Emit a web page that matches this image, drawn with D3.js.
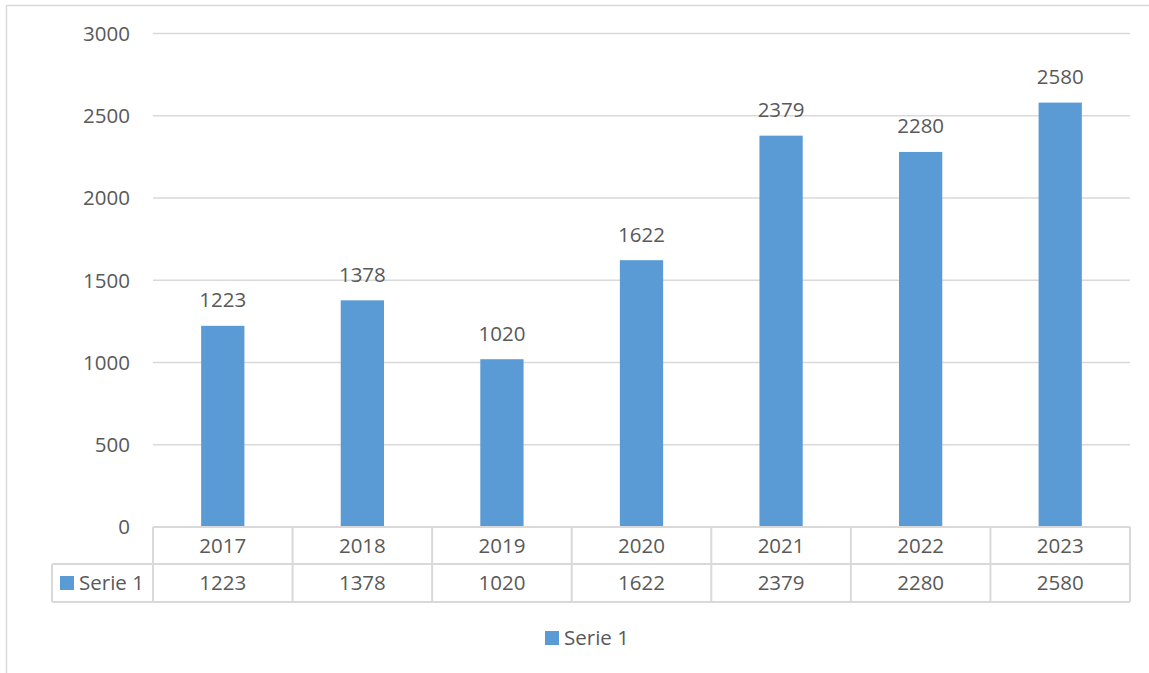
<!DOCTYPE html>
<html>
<head>
<meta charset="utf-8">
<script src="https://cdn.jsdelivr.net/npm/d3@7"></script>
<style>
  html, body { margin: 0; padding: 0; background: #fff; }
  svg { display: block; }
  text { font-family: "Open Sans", "Liberation Sans", sans-serif; fill: #595959; }
</style>
</head>
<body>
<div id="chart"></div>
<script>
const years = ["2017", "2018", "2019", "2020", "2021", "2022", "2023"];
const serie1 = [1223, 1378, 1020, 1622, 2379, 2280, 2580];
const yTicks = [0, 500, 1000, 1500, 2000, 2500, 3000];
const seriesName = "Serie 1";

const width = 1149;
const height = 673;
const barColor = "#5b9bd5";
const lineColor = "#d9d9d9";
const fontSize = 20.5;

const svg = d3.select("#chart").append("svg")
  .attr("width", width)
  .attr("height", height);

// outer chart border (left and top visible)
svg.append("rect")
  .attr("x", 6.5).attr("y", 5.5)
  .attr("width", width + 20).attr("height", height + 20)
  .attr("fill", "none")
  .attr("stroke", lineColor)
  .attr("stroke-width", 1.5);

const plotLeft = 153, plotRight = 1130;
const x = d3.scaleBand().domain(years).range([plotLeft, plotRight]).padding(0);
const y = d3.scaleLinear().domain([0, 3000]).range([527, 33.5]);

// gridlines
svg.append("g")
  .selectAll("line")
  .data(yTicks.filter((d) => d > 0))
  .join("line")
  .attr("x1", plotLeft).attr("x2", plotRight)
  .attr("y1", (d) => y(d)).attr("y2", (d) => y(d))
  .attr("stroke", lineColor)
  .attr("stroke-width", 1.5);

// y tick labels
svg.append("g")
  .selectAll("text")
  .data(yTicks)
  .join("text")
  .attr("x", 130)
  .attr("y", (d) => y(d))
  .attr("dy", "0.36em")
  .attr("text-anchor", "end")
  .attr("font-size", fontSize)
  .text((d) => d);

// bars
const barW = x.bandwidth() * 0.31;
svg.append("g")
  .selectAll("rect")
  .data(serie1)
  .join("rect")
  .attr("x", (d, i) => x(years[i]) + (x.bandwidth() - barW) / 2)
  .attr("y", (d) => y(d))
  .attr("width", barW)
  .attr("height", (d) => y(0) - y(d))
  .attr("fill", barColor);

// data labels
svg.append("g")
  .selectAll("text")
  .data(serie1)
  .join("text")
  .attr("x", (d, i) => x(years[i]) + x.bandwidth() / 2)
  .attr("y", (d) => y(d) - 18.5)
  .attr("text-anchor", "middle")
  .attr("font-size", fontSize)
  .text((d) => d);

// data table
const row1Top = y(0), row1Bot = 564, row2Bot = 602;
const tableLeft = 52;
const table = svg.append("g")
  .attr("stroke", lineColor)
  .attr("stroke-width", 2)
  .attr("fill", "none");

table.append("line").attr("x1", plotLeft).attr("x2", plotRight).attr("y1", row1Top).attr("y2", row1Top);
table.append("line").attr("x1", tableLeft).attr("x2", plotRight).attr("y1", row1Bot).attr("y2", row1Bot);
table.append("line").attr("x1", tableLeft).attr("x2", plotRight).attr("y1", row2Bot).attr("y2", row2Bot);
table.append("line").attr("x1", tableLeft).attr("x2", tableLeft).attr("y1", row1Bot).attr("y2", row2Bot);
table.selectAll("line.v")
  .data(years.concat(["end"]))
  .join("line")
  .attr("class", "v")
  .attr("x1", (d) => (d === "end" ? plotRight : x(d)))
  .attr("x2", (d) => (d === "end" ? plotRight : x(d)))
  .attr("y1", row1Top)
  .attr("y2", row2Bot);

svg.append("g")
  .selectAll("text")
  .data(years)
  .join("text")
  .attr("x", (d) => x(d) + x.bandwidth() / 2)
  .attr("y", (row1Top + row1Bot) / 2)
  .attr("dy", "0.36em")
  .attr("text-anchor", "middle")
  .attr("font-size", fontSize)
  .text((d) => d);

svg.append("g")
  .selectAll("text")
  .data(serie1)
  .join("text")
  .attr("x", (d, i) => x(years[i]) + x.bandwidth() / 2)
  .attr("y", (row1Bot + row2Bot) / 2)
  .attr("dy", "0.36em")
  .attr("text-anchor", "middle")
  .attr("font-size", fontSize)
  .text((d) => d);

svg.append("rect")
  .attr("x", 60).attr("y", 576)
  .attr("width", 14).attr("height", 14)
  .attr("fill", barColor);
svg.append("text")
  .attr("x", 79).attr("y", (row1Bot + row2Bot) / 2)
  .attr("dy", "0.36em")
  .attr("font-size", fontSize)
  .text(seriesName);

// legend
const legend = svg.append("g").attr("transform", "translate(545,631)");
legend.append("rect")
  .attr("width", 14).attr("height", 14)
  .attr("fill", barColor);
legend.append("text")
  .attr("x", 19).attr("y", 7)
  .attr("dy", "0.36em")
  .attr("font-size", fontSize)
  .text(seriesName);
</script>
</body>
</html>
